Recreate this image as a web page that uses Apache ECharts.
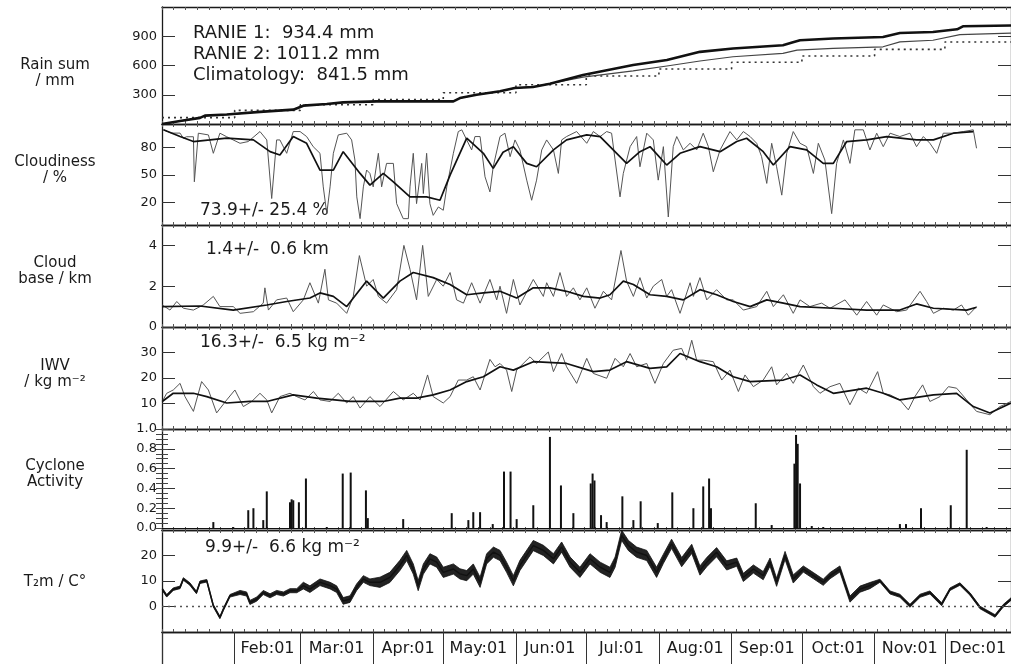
<!DOCTYPE html>
<html>
<head>
<meta charset="utf-8">
<title>RANIE 2001</title>
<script src="https://cdn.jsdelivr.net/npm/echarts@6/dist/echarts.min.js"></script>
<style>
    html, body { margin: 0; padding: 0; background: #fff; }
    #chart { width: 1011px; height: 664px; }
</style>
</head>
<body>
<div id="chart"></div>
<script>
// x values are day of year, 0 = Jan 01
var monthStarts = [0, 31, 59, 90, 120, 151, 181, 212, 243, 273, 304, 334];
var monthMids = [45, 74.5, 105, 135, 165.5, 196, 227.5, 258, 288.5, 319, 348];
var monthLabels = ['Feb:01', 'Mar:01', 'Apr:01', 'May:01', 'Jun:01', 'Jul:01', 'Aug:01', 'Sep:01', 'Oct:01', 'Nov:01', 'Dec:01'];
var xMax = 362.2;

// rain sums / mm
var ranie2 = [[0,0],[7.7,30],[16.2,63],[18.3,86],[27.6,97],[41.8,124],[56,147],[60.3,188],[70.3,205],[77.3,222],[91.6,232],[124.3,232],[127.1,266],[134.2,300],[144.2,335],[150.5,370],[158.3,380],[165.5,412],[179.6,503],[201,605],[215.4,656],[229.5,740],[243.6,775],[264.9,808],[269.2,839],[272.2,859],[286.3,877],[307.6,893],[314.8,934],[328.9,944],[339.2,971],[341.7,1002],[362.2,1011]];
var ranie1 = [[0,0],[7.7,30],[16.2,63],[18.3,86],[27.6,97],[41.8,124],[56,147],[60.3,188],[70.3,205],[77.3,222],[91.6,232],[124.3,232],[127.1,266],[134.2,300],[144.2,335],[150.5,370],[158.3,380],[179.6,480],[201,544],[215.4,595],[229.5,646],[243.6,690],[264.9,724],[270.9,758],[286.3,775],[307.6,792],[314.8,842],[328.9,859],[340.4,917],[362.2,932]];
var climMonthly = [65, 140, 198, 250, 320, 402, 493, 564, 633, 697, 765, 841.5];

// cloudiness / %
var cloudDaily = [[0.6,99.6],[4,96],[7.7,96],[9.1,90.4],[10.5,92],[13.4,92],[13.8,42.5],[15.5,95.9],[19.8,94],[21.9,73.8],[24.7,95.9],[27.6,92],[33.3,84.8],[36.8,86.7],[41.8,97.7],[44.7,88.5],[46.8,24.1],[48.9,88.5],[50.3,88.5],[53.2,73.8],[56,97.7],[58.9,97.7],[61.7,92.2],[64.5,81.1],[67.4,73.8],[68.8,36.9],[70.3,7.5],[71.7,36.9],[73.1,73.8],[75.2,94],[78.8,95.9],[80.9,88.5],[82.3,66.4],[83.1,25.9],[84.5,2],[85.9,36.9],[87.3,55.4],[88.7,51.7],[90.1,36.9],[92.3,73.8],[93.7,36.9],[95.8,62.7],[98.7,62.7],[100.1,18.5],[102.9,2],[105.1,2],[105.8,36.9],[107.2,73.8],[108.6,18.5],[110.8,62.7],[111.5,29.6],[112.9,73.8],[114.3,18.5],[115.7,5.6],[117.9,14.8],[120,11.2],[121.5,36.9],[124.3,73.8],[126.4,97.7],[127.9,99.6],[130,88.5],[132.1,77.5],[133.5,92.2],[135.7,92.2],[137.8,48],[139.9,31.4],[141.3,59],[144.2,92.2],[146.3,95.9],[148.5,70.1],[150.6,88.5],[152.7,77.5],[155.6,44.3],[157.7,22.2],[159.8,44.3],[162,77.5],[164.1,88.5],[167,77.5],[169.1,51.7],[170.5,88.5],[172.6,92.2],[176.9,97.7],[181.2,84.8],[184,97.7],[186.9,92.2],[189.7,97.7],[191.8,95.9],[193.3,66.4],[195.4,25.9],[196.8,51.7],[199.7,81.1],[202.5,92.2],[203.9,59],[206.8,95.9],[209.6,88.5],[211.7,44.3],[213.9,81.1],[216,3.8],[218.1,81.1],[219.6,92.2],[222.4,77.5],[225.3,84.8],[228.1,77.5],[230.9,95.9],[233.1,81.1],[235.2,53.5],[238.1,77.5],[242.3,97.7],[245.2,88.5],[248,97.7],[250.9,92.2],[253.7,84.8],[255.8,70.1],[258,40.7],[260.1,84.8],[262.2,59],[264.4,27.8],[266.5,73.8],[269.3,97.7],[272.2,84.8],[275,81.1],[277.9,51.7],[280,84.8],[282.8,66.4],[285.7,7.5],[287.8,62.7],[290.7,88.5],[293.5,62.7],[295.6,99.6],[299.2,99.6],[302,77.5],[304.9,95.9],[307.7,81.1],[310.6,95.9],[314.8,92.2],[319.1,95.9],[321.9,81.1],[324.8,92.2],[327.6,84.8],[330.5,73.8],[333.3,95.9],[337.6,95.9],[341.9,97.7],[346.1,99.6],[347.5,79.3]];
var cloudMean = [[0.6,99.6],[7.7,92.2],[13.4,86.7],[20.5,88.5],[27.6,90.4],[39,88.5],[46.1,75.6],[50.3,71.9],[56,92.2],[61.7,84.8],[67.4,55.4],[73.1,55.4],[77.3,75.6],[84.5,51.7],[88.7,38.8],[94.4,51.7],[98.7,42.5],[105.8,25.9],[112.9,25.9],[118.6,22.2],[122.9,49.8],[130,90.4],[137.1,73.8],[141.3,57.2],[145.5,75],[149.9,81.1],[155.6,62.7],[159.8,59],[167,77.5],[172.6,88.5],[181.2,94],[186.9,92.2],[192.5,77.5],[198.2,62.7],[203.9,75.6],[208.2,81.1],[215.3,60.9],[221,73.8],[229.5,81.1],[238.1,75.6],[245.2,86.7],[249.4,90.3],[256.5,75.6],[260.8,60.9],[267.9,81.1],[275,77.5],[282.1,62.7],[286.4,62.7],[292.1,86.7],[300.6,88.5],[309.2,92.2],[321.9,88.5],[329.1,88.5],[337.6,95.9],[346.1,97.7]];

// cloud base / km
var baseDaily = [[0.1,1.08],[3.4,0.83],[6.3,1.25],[9.1,0.92],[13.4,0.83],[17.6,1.08],[21.9,1.5],[24.7,1.0],[30.4,1.0],[33.3,0.67],[39,0.75],[43.2,1.17],[43.9,1.92],[45.4,0.83],[48.9,1.33],[53.2,1.42],[56,0.75],[60.3,1.33],[63.1,2.17],[66.7,1.17],[69.5,2.83],[71,1.33],[74.5,1.17],[78.8,0.67],[81.6,1.5],[84.2,3.5],[87.3,2.0],[90.1,2.33],[92.3,1.5],[95.8,1.17],[100.1,1.83],[103.2,4.0],[105.8,2.83],[108.6,1.33],[111.2,4.0],[113.6,1.5],[117.2,2.33],[120,2.0],[122.9,2.67],[125.7,1.33],[128.6,1.17],[132.1,2.17],[135.7,1.17],[139.9,2.33],[142.8,1.33],[144.2,2.0],[147,0.67],[149.9,2.33],[152.7,1.08],[158.4,2.33],[162.7,1.5],[164.1,2.17],[167,1.5],[169.8,2.67],[172.6,1.5],[175.5,1.92],[178.3,1.33],[181.2,1.92],[184.7,0.92],[188.3,1.75],[191.8,1.33],[195.8,3.75],[198.2,2.25],[201.1,1.5],[203.9,2.42],[206.8,1.42],[209.6,2.0],[213.2,2.33],[215.3,1.5],[217.4,1.83],[221,0.67],[225.3,2.17],[226.7,1.5],[229.5,2.42],[232.4,1.33],[236.6,1.83],[240.9,1.33],[243.7,1.33],[248,0.83],[253.7,1.0],[258,1.75],[260.8,1.0],[265.1,1.58],[269.3,0.67],[272.2,1.33],[276.4,1.0],[281.4,1.17],[285,0.92],[291.4,1.33],[296.4,0.58],[300.6,1.25],[304.9,0.58],[307.7,1.08],[313.4,0.75],[317.7,0.83],[323.4,1.75],[326.2,1.25],[329.1,0.67],[333.3,0.92],[337.6,0.83],[341.1,1.08],[344,0.58],[347.5,1.0]];
var baseMean = [[0.1,1.0],[16.2,1.03],[30.4,0.83],[44.7,1.08],[53.2,1.25],[63.1,1.42],[67.4,1.67],[73.1,1.5],[78.8,1.0],[87.3,2.25],[94.4,1.42],[101.5,2.25],[107.2,2.67],[115.7,2.42],[122.9,2.08],[130,1.58],[137.1,1.67],[144.2,1.75],[151.3,1.42],[158.4,1.92],[165.5,1.92],[172.6,1.75],[179.8,1.5],[186.9,1.42],[191.1,1.58],[196.8,2.25],[201.1,2.08],[208.2,1.58],[215.3,1.5],[222.4,1.33],[229.5,1.83],[236.6,1.58],[243.7,1.25],[250.9,1.0],[258,1.33],[265.1,1.17],[272.2,1.0],[286.4,0.92],[300.6,0.83],[314.8,0.83],[321.9,1.13],[329.1,0.92],[343.3,0.83],[347.5,0.97]];

// integrated water vapour / kg m-2
var iwvDaily = [[0.1,10.8],[2,14],[4.8,15.3],[7.7,17.9],[9.8,12.7],[13.4,6.9],[16.9,18.6],[19.8,15.3],[23.3,6.3],[27.6,11.4],[31.1,15.3],[34.7,8.8],[38.3,10.8],[41.8,14],[44.7,11.4],[46.8,6.3],[50.3,12.7],[54.6,14],[57.5,12.7],[61,11.4],[64.6,14.7],[67.4,11.4],[71.7,10.8],[75.2,14],[78.8,10.2],[81.6,12.7],[84.5,8.2],[88.7,12.7],[93,8.8],[98.7,14.7],[102.9,11.4],[107.2,14],[110.1,11.4],[113.3,21.2],[115.7,12.7],[120,10.2],[122.9,12.7],[126.4,19.2],[130,19.2],[132.8,20.5],[135.7,15.3],[139.9,27.3],[142.1,24.4],[144.2,25.7],[147,23.1],[149.2,14.7],[151.3,23.1],[157,28.3],[159.8,25.7],[164.8,30.2],[167,22.5],[170.5,29.6],[172.6,24.4],[176.9,17.9],[181.2,27.7],[184,21.8],[189.7,19.9],[193.3,27.7],[196.8,24.4],[199.7,29.6],[202.5,24.4],[206.8,25.7],[210.3,17.9],[213.9,25.7],[218.1,30.9],[221.7,31.6],[223.8,27],[226,34.8],[228.1,27],[230.9,27],[235.2,26.4],[238.8,19.2],[242.3,23.1],[245.9,14.7],[248.7,21.2],[252.3,16.6],[256.5,19.2],[260.1,24.4],[262.2,17.3],[266.5,21.8],[269.3,17.9],[273.6,25.1],[277.9,16.6],[280.7,14],[285,16.6],[289.2,17.9],[293.5,9.5],[297.1,16],[300.6,14],[305.3,22.5],[307.7,14],[310.6,13.4],[314.8,11.4],[318.4,7.5],[321.2,12.7],[324.5,17.3],[327.6,10.8],[331.9,12.7],[335.5,16.6],[339,16],[343.3,11.4],[347.5,6.9],[353.2,5.6],[357.5,8.8],[362.2,10.8]];
var iwvMean = [[0.1,10.8],[4.8,14],[13.4,14],[19.1,12.7],[27.6,10.2],[37.5,10.8],[44.7,10.8],[56,13.4],[66,12.1],[80.2,10.8],[94.4,10.8],[101.5,12.1],[108.6,12.1],[115.7,13.4],[122.9,15.3],[130,18.6],[137.1,20.5],[144.2,24.4],[149.9,23.1],[158.4,26.4],[172.6,25.7],[184,22.5],[191.1,23.1],[198.2,26.4],[208.2,23.8],[215.3,24.4],[221,29.6],[229.5,26.4],[236.6,24.4],[243.7,20.5],[250.9,18.6],[265.1,19.2],[272.2,21.2],[279.3,17.3],[286.4,14],[300.6,16],[307.7,14],[314.8,11.4],[329.1,13.4],[339,14],[346.1,8.8],[353.2,6.3],[362.2,10.2]];

// cyclone activity
var cyclone = [[21.9,0.06],[30.4,0.01],[36.8,0.18],[39,0.2],[43.2,0.08],[44.7,0.37],[54.6,0.26],[55.3,0.29],[56,0.28],[58.4,0.26],[61.4,0.5],[70.3,0.01],[77.1,0.55],[80.5,0.56],[87,0.38],[87.8,0.1],[102.9,0.09],[123.6,0.15],[130.7,0.08],[132.8,0.16],[135.7,0.16],[141.1,0.04],[145.9,0.57],[148.7,0.57],[151.3,0.09],[158.4,0.23],[165.5,0.92],[170.2,0.43],[175.5,0.15],[182.9,0.45],[183.7,0.55],[184.5,0.48],[187.3,0.13],[189.7,0.06],[196.4,0.32],[201.1,0.08],[204.2,0.27],[211.5,0.05],[217.7,0.36],[226.7,0.2],[230.9,0.42],[233.4,0.5],[234.2,0.2],[253.3,0.25],[260.1,0.03],[269.8,0.65],[270.5,0.94],[271.2,0.85],[272.2,0.45],[277.2,0.02],[282.1,0.01],[314.8,0.04],[317.4,0.04],[323.8,0.2],[336.5,0.23],[343.3,0.79],[351.8,0.01]];

// 2 m temperature / C
var t2m = [[0.1,6.8],[2,4.2],[4.8,6.8],[7.7,7.5],[9.1,10.8],[11.9,8.8],[14.7,5.5],[16.2,9.5],[19.1,10.1],[21.9,0.3],[24.7,-4.3],[26.2,-1.1],[29,4.2],[33.3,5.5],[36.1,4.9],[37.5,1.6],[40.4,2.9],[43.2,5.5],[46.1,4.2],[48.9,5.5],[51.8,4.9],[54.6,6.2],[57.5,6.2],[60.3,8.2],[63.1,6.8],[67.4,9.5],[71.7,8.2],[74.5,6.8],[77.3,2.2],[80.2,2.9],[83,7.5],[85.9,10.8],[88.7,9.5],[93,9.5],[97.2,11.4],[101.5,16.1],[104.4,20],[107.2,14.7],[109.3,8.2],[111.5,14.7],[114.3,18.7],[117.2,17.4],[120,13.4],[124.3,14.7],[127.1,12.8],[130,12.1],[132.8,14.7],[135.7,9.5],[138.5,18.7],[141.4,21.3],[144.2,20],[147,15.4],[149.9,10.1],[152.7,16.1],[158.4,23.9],[162.7,22],[167,18.7],[170.5,23.3],[174.1,17.4],[178.3,13.4],[182.6,18.7],[186.9,15.4],[191.1,13.4],[193.3,17.4],[196.1,27.9],[199,23.9],[202.5,21.3],[206.8,20],[211,13.4],[213.9,18.7],[217.4,24.6],[221.7,17.4],[226,22.6],[229.5,14.1],[232.4,17.4],[236.6,21.3],[240.9,16.1],[245.2,17.4],[248,11.4],[252.3,14.7],[256.5,12.1],[259.4,17.4],[262.2,9.5],[265.8,20],[269.3,10.8],[273.6,14.7],[277.9,12.1],[282.1,9.5],[285,12.1],[289.2,14.7],[293.5,2.9],[297.8,6.8],[302,8.2],[306.3,10.1],[310.6,5.5],[314.8,4.2],[319.1,0.3],[323.4,4.2],[327.6,5.5],[332.6,0.9],[336.2,6.8],[340.4,8.8],[344.7,4.9],[349,-0.4],[355.4,-3.7],[358.9,0.3],[362.2,2.9]];
// half of the daily T range, read per month
var tHalfByMonth = [0.5, 0.8, 1.3, 2.0, 2.0, 2.0, 2.0, 1.8, 1.6, 1.2, 0.6, 0.5];

// y axes of the six panels
var yRanges = [[0, 1200], [-5, 106], [0, 5], [0, 40], [-0.02, 1.0], [-10, 30]];
var yTicks = [[300, 600, 900], [20, 50, 80], [0, 2, 4], [10, 20, 30], [0, 0.2, 0.4, 0.6, 0.8, 1.0], [0, 10, 20]];
var cycMinor = [0, 0.05, 0.1, 0.15, 0.2, 0.25, 0.3, 0.35, 0.4, 0.45, 0.5, 0.55, 0.6, 0.65, 0.7, 0.75, 0.8, 0.85, 0.9, 0.95, 1.0];

var font = '"DejaVu Sans", sans-serif';
var ink = '#1a1a1a';
var boxes = [[7, 117], [124, 101], [225, 102], [327, 102], [429, 101], [530, 102]];

var grids = [], xAxes = [], yAxes = [];
boxes.forEach(function (b, i) {
    grids.push({ left: 162, right: 0, top: b[0], height: b[1] });
    ['bottom', 'top'].forEach(function (pos) {
        xAxes.push({
            type: 'value', gridIndex: i, position: pos, min: 0, max: xMax, interval: 5,
            axisLine: { show: true, onZero: false, lineStyle: { color: ink, width: 1.3 } },
            axisTick: { show: true, inside: true, length: 3, lineStyle: { color: '#555' } },
            axisLabel: { show: false }, splitLine: { show: false }
        });
    });
    ['left', 'right'].forEach(function (pos) {
        yAxes.push({
            type: 'value', gridIndex: i, position: pos, min: yRanges[i][0], max: yRanges[i][1],
            axisLine: { show: true, onZero: false, lineStyle: { color: ink, width: 1.3 } },
            axisTick: { show: true, inside: true, length: 13, customValues: yTicks[i], lineStyle: { color: '#333' } },
            axisLabel: {
                show: pos === 'left', customValues: yTicks[i], fontSize: 13, fontFamily: font, color: ink, margin: 5,
                formatter: i === 4 ? function (v) { return v.toFixed(1); } : null
            },
            splitLine: { show: false }
        });
    });
});
// minor ticks of the cyclone panel
['left', 'right'].forEach(function (pos) {
    yAxes.push({
        type: 'value', gridIndex: 4, position: pos, min: yRanges[4][0], max: yRanges[4][1],
        axisLine: { show: false },
        axisTick: { show: true, inside: true, length: 6, customValues: cycMinor, lineStyle: { color: '#444' } },
        axisLabel: { show: false }, splitLine: { show: false }
    });
});
// month label row
grids.push({ left: 162, right: 0, top: 632, height: 40 });
xAxes.push({
    type: 'value', gridIndex: 6, position: 'top', min: 0, max: xMax,
    axisLine: { show: true, onZero: false, lineStyle: { color: ink, width: 1.3 } },
    axisTick: { show: true, inside: true, length: 40, customValues: monthStarts, lineStyle: { color: '#333' } },
    axisLabel: {
        show: true, inside: true, margin: 9, customValues: monthMids, fontSize: 16, fontFamily: font, color: ink,
        formatter: function (v) { var k = monthMids.indexOf(v); return k >= 0 ? monthLabels[k] : ''; }
    },
    splitLine: { show: false }
});
yAxes.push({
    type: 'value', gridIndex: 6, min: 0, max: 1,
    axisLine: { show: true, onZero: false, lineStyle: { color: ink, width: 1.3 } },
    axisTick: { show: false }, axisLabel: { show: false }, splitLine: { show: false }
});

function line(p, data, color, width, extra) {
    var s = {
        type: 'line', xAxisIndex: 2 * p, yAxisIndex: 2 * p, data: data,
        showSymbol: false, symbol: 'none', silent: true,
        lineStyle: { color: color, width: width }
    };
    for (var k in extra) s[k] = extra[k];
    return s;
}

var climData = monthStarts.map(function (d, k) { return [d, climMonthly[k]]; });
climData.push([xMax, climMonthly[11]]);

function monthOf(d) {
    var m = 0;
    for (var k = 0; k < 12; k++) if (d >= monthStarts[k]) m = k;
    return m;
}

var series = [
    line(0, climData, '#333', 1.6, { step: 'end', lineStyle: { color: '#333', width: 1.6, type: [2, 4] } }),
    line(0, ranie1, '#444', 1.2),
    line(0, ranie2, '#111', 2.6),
    line(1, cloudDaily, '#555', 1),
    line(1, cloudMean, '#111', 1.7),
    line(2, baseDaily, '#555', 1),
    line(2, baseMean, '#111', 1.7),
    line(3, iwvDaily, '#555', 1),
    line(3, iwvMean, '#111', 1.7),
    {
        type: 'bar', xAxisIndex: 8, yAxisIndex: 8, data: cyclone, barWidth: 2, silent: true,
        itemStyle: { color: '#111' },
        markLine: {
            silent: true, symbol: 'none', label: { show: false },
            lineStyle: { color: '#111', width: 1.2, type: 'solid' },
            data: [{ yAxis: 0 }]
        }
    },
    {
        type: 'custom', xAxisIndex: 10, yAxisIndex: 10, data: [[0, 0]], silent: true, clip: true,
        renderItem: function (params, api) {
            var up = [], lo = [];
            t2m.forEach(function (r) {
                var h = tHalfByMonth[monthOf(r[0])];
                up.push(api.coord([r[0], r[1] + h]));
                lo.unshift(api.coord([r[0], r[1] - h]));
            });
            return { type: 'polygon', shape: { points: up.concat(lo) }, style: { fill: '#222', stroke: '#111', lineWidth: 0.8 } };
        }
    },
    line(5, t2m, '#111', 1.4, {
        markLine: {
            silent: true, symbol: 'none', label: { show: false },
            lineStyle: { color: '#555', width: 1.3, type: [2, 4] },
            data: [{ yAxis: 0 }]
        }
    })
];

var sideTitles = [
    ['Rain sum\n/ mm', 73],
    ['Cloudiness\n/ %', 170],
    ['Cloud\nbase / km', 271],
    ['IWV\n/ kg m⁻²', 374],
    ['Cyclone\nActivity', 474],
    ['T₂m / C°', 582]
];
var notes = [
    ['RANIE 1:  934.4 mm', 193, 33, 18],
    ['RANIE 2: 1011.2 mm', 193, 54, 18],
    ['Climatology:  841.5 mm', 193, 75, 18],
    ['73.9+/- 25.4 %', 200, 211, 17],
    ['1.4+/-  0.6 km', 206, 250, 17],
    ['16.3+/-  6.5 kg m⁻²', 200, 343, 17],
    ['9.9+/-  6.6 kg m⁻²', 205, 548, 17]
];

var graphic = [];
sideTitles.forEach(function (t) {
    graphic.push({
        type: 'text', left: 'auto', x: 55, y: t[1], silent: true,
        style: {
            text: t[0], x: 0, y: 0, fill: ink, font: '15px ' + font, lineHeight: 16,
            align: 'center', verticalAlign: 'middle', textAlign: 'center', textVerticalAlign: 'middle'
        }
    });
});
notes.forEach(function (t) {
    graphic.push({
        type: 'text', x: t[1], y: t[2], silent: true,
        style: {
            text: t[0], x: 0, y: 0, fill: ink, font: t[3] + 'px ' + font,
            align: 'left', verticalAlign: 'middle', textAlign: 'left', textVerticalAlign: 'middle'
        }
    });
});

var myChart = echarts.init(document.getElementById('chart'), null, { renderer: 'canvas' });
myChart.setOption({
    animation: false,
    backgroundColor: '#fff',
    textStyle: { fontFamily: font },
    grid: grids,
    xAxis: xAxes,
    yAxis: yAxes,
    series: series,
    graphic: graphic
});
</script>
</body>
</html>
